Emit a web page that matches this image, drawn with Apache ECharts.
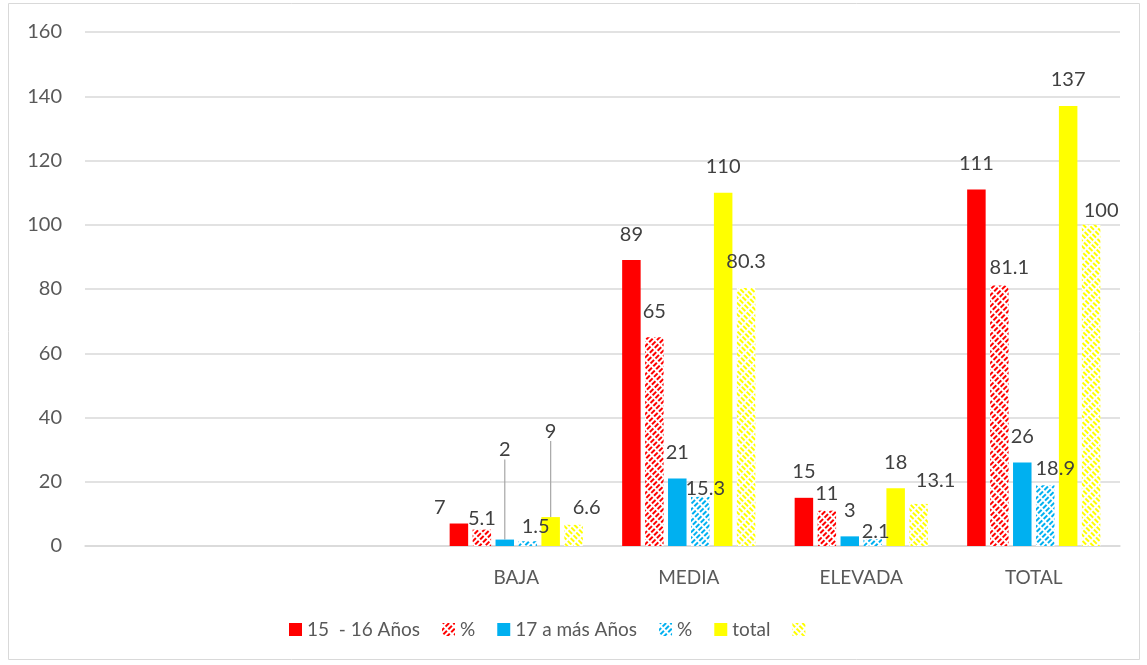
<!DOCTYPE html>
<html>
<head>
<meta charset="utf-8">
<script src="https://cdn.jsdelivr.net/npm/echarts@6/dist/echarts.min.js"></script>
<style>
  html, body { margin: 0; padding: 0; background: #fff; }
  #chart { width: 1147px; height: 665px; }
</style>
</head>
<body>
<div id="chart"></div>
<script>
const categories = ['', '', 'BAJA', 'MEDIA', 'ELEVADA', 'TOTAL'];
const edad1516 = [null, null, 7, 89, 15, 111];
const pct1516 = [null, null, 5.1, 65, 11, 81.1];
const edad17 = [null, null, 2, 21, 3, 26];
const pct17 = [null, null, 1.5, 15.3, 2.1, 18.9];
const total = [null, null, 9, 110, 18, 137];
const pctTotal = [null, null, 6.6, 80.3, 13.1, 100];
const yTicks = [0, 20, 40, 60, 80, 100, 120, 140, 160];

const RED = '#FF0000', BLUE = '#00B0F0', YELLOW = '#FFFF00';
const FONT = 'Lato';

// label nudges, like Excel moved them (series-dataIndex: [dx, dy])
const nudges = {
  '0-2': [-19, 10], '1-2': [0, 15], '2-2': [0, -64], '3-2': [8, 11],
  '4-2': [0, -60], '5-2': [13, 9], '3-3': [5, 18], '1-4': [0, 9],
  '3-4': [3, 18], '5-4': [17, 3], '1-5': [10, 8], '3-5': [10, 9], '5-5': [10, 12]
};

function hatch(color, rot) {
  return {
    color: color,
    symbol: 'rect',
    symbolSize: 1,
    dashArrayX: [5, 2],
    dashArrayY: [2, 1.5],
    rotation: rot
  };
}

// calloutIdx: data index whose label sits high with a leader line
function bar(name, data, color, decal, calloutIdx) {
  return {
    name: name,
    type: 'bar',
    data: data.map(function (v, i) {
      return i === calloutIdx ? { value: v, labelLine: { show: true } } : v;
    }),
    barWidth: 18.5,
    barGap: '24%',
    itemStyle: {
      color: decal ? '#fff' : color,
      decal: decal || { symbol: 'none' }
    },
    label: {
      show: true,
      position: 'top',
      distance: 16,
      color: '#404040',
      fontFamily: FONT,
      fontSize: 20
    },
    labelLine: {
      show: false,
      lineStyle: { color: '#a6a6a6', width: 1.2 }
    },
    labelLayout: function (p) {
      const n = nudges[p.seriesIndex + '-' + p.dataIndex];
      return n ? { dx: n[0], dy: n[1] } : {};
    }
  };
}

const chart = echarts.init(document.getElementById('chart'));
chart.setOption({
  animation: false,
  aria: { enabled: true, decal: { show: true } },
  textStyle: { fontFamily: FONT },
  graphic: [{
    type: 'rect',
    shape: { x: 8.5, y: 3.5, width: 1131, height: 656 },
    style: { fill: 'none', stroke: '#d9d9d9', lineWidth: 1 },
    silent: true
  }],
  grid: { left: 85, right: 27, top: 32, bottom: 119 },
  legend: {
    left: 289,
    top: 620,
    padding: 0,
    itemWidth: 13,
    itemHeight: 13,
    itemGap: 22,
    icon: 'rect',
    textStyle: { color: '#595959', fontFamily: FONT, fontSize: 19 },
    formatter: function (name) { return name.trim(); }
  },
  xAxis: {
    type: 'category',
    data: categories,
    axisLine: { lineStyle: { color: '#d9d9d9', width: 1.5 } },
    axisTick: { show: false },
    axisLabel: { color: '#595959', fontFamily: FONT, fontSize: 19, margin: 22, interval: 0 }
  },
  yAxis: {
    type: 'value',
    min: yTicks[0],
    max: yTicks[yTicks.length - 1],
    interval: 20,
    axisLine: { show: false },
    axisTick: { show: false },
    axisLabel: { color: '#595959', fontFamily: FONT, fontSize: 20, margin: 23 },
    splitLine: { lineStyle: { color: '#d9d9d9', width: 1.5 } }
  },
  series: [
    bar('15  - 16 Años', edad1516, RED),
    bar('%', pct1516, RED, hatch(RED, -Math.PI / 4)),
    bar('17 a más Años', edad17, BLUE, null, 2),
    bar('% ', pct17, BLUE, hatch(BLUE, -Math.PI / 4)),
    bar('total', total, YELLOW, null, 2),
    bar(' ', pctTotal, YELLOW, hatch(YELLOW, Math.PI / 4))
  ]
});
</script>
</body>
</html>
